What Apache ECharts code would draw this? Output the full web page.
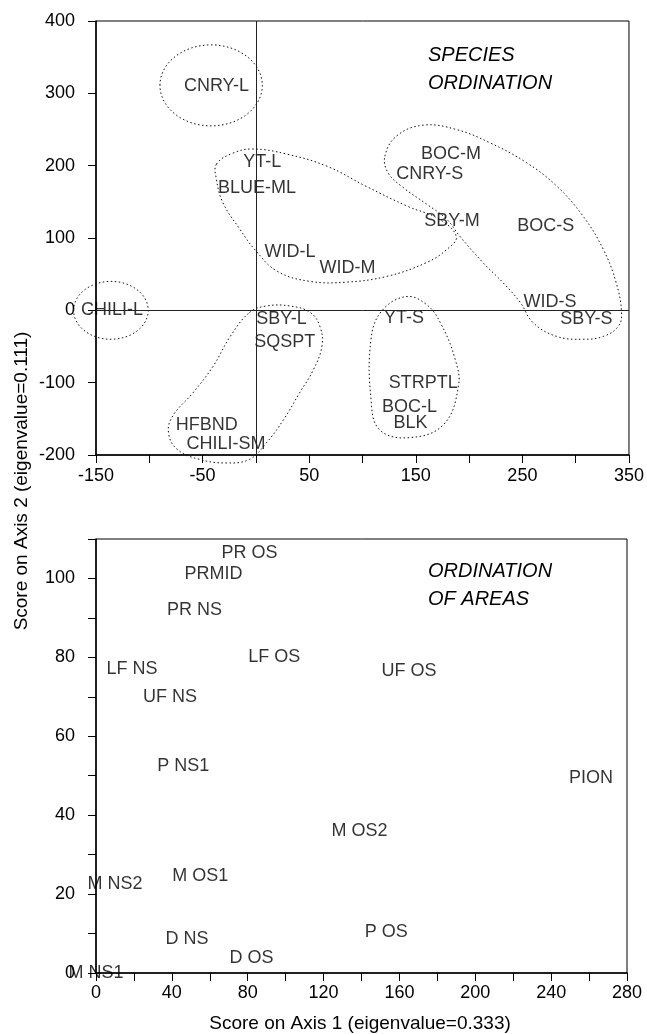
<!DOCTYPE html>
<html><head><meta charset="utf-8">
<script src="https://cdn.jsdelivr.net/npm/echarts@6/dist/echarts.min.js"></script>
<style>html,body{margin:0;padding:0;background:#fff}#c{width:647px;height:1034px}</style>
</head><body><div id="c"></div>
<script>
// ---------- Species ordination (top panel) ----------
const speciesNames = ['CNRY-L','YT-L','BLUE-ML','WID-L','WID-M','SBY-M','BOC-M','CNRY-S','BOC-S','WID-S','SBY-S','YT-S','STRPTL','BOC-L','BLK','SBY-L','SQSPT','HFBND','CHILI-SM','CHILI-L'];
const speciesX = [-37, 6, 1, 32, 86, 184, 183, 163, 272, 276, 310, 139, 157, 144, 145, 24, 27, -46, -28, -135];
const speciesY = [310, 205, 169, 80, 59, 124, 216, 188, 116, 12, -12, -10, -101, -134, -156, -12, -44, -159, -185, 0];
const speciesXTickLabels = [-150, -50, 50, 150, 250, 350];
const speciesYTickLabels = [-200, -100, 0, 100, 200, 300, 400];

// dotted group outlines (data coordinates)
const groupCnryL = [-42, 311, 48, 56];   // ellipse: cx, cy, rx, ry
const groupChiliL = [-136, 0, 35, 40];
const groupYTL = [[-37,202],[-22,217],[-3,223],[29,216],[67,199],[104,171],[142,144],[172,126],[188,102],[179,84],[160,66],[123,47],[85,39],[51,40],[20,54],[-1,84],[-15,112],[-31,149],[-37,181]];
const groupBOCM = [[121,213],[132,241],[157,256],[188,250],[219,232],[254,204],[282,172],[307,130],[326,84],[338,38],[343,-3],[340,-22],[326,-36],[307,-40],[282,-36],[260,-17],[248,11],[232,38],[213,66],[191,103],[179,126],[160,147],[138,170],[124,190]];
const groupSBYL = [[-6,-3],[10,6],[32,6],[51,-3],[60,-22],[62,-49],[54,-82],[41,-114],[26,-151],[10,-183],[-6,-206],[-28,-211],[-53,-206],[-74,-192],[-82,-169],[-78,-146],[-59,-114],[-40,-77],[-24,-36]];
const groupYTS = [[141,19],[160,8],[173,-17],[187,-68],[190,-105],[176,-158],[144,-176],[116,-165],[108,-123],[108,-40],[118,-1]];

// ---------- Ordination of areas (bottom panel) ----------
const areaNames = ['PR OS','PRMID','PR NS','LF NS','LF OS','UF NS','UF OS','P NS1','PION','M OS2','M OS1','M NS2','D NS','P OS','D OS','M NS1'];
const areaX = [81, 62, 52, 19, 94, 39, 165, 46, 261, 139, 55, 10, 48, 153, 82, 0];
const areaY = [106.5, 101, 92, 77, 80, 70, 76.5, 52.5, 49.5, 36, 24.5, 22.5, 8.6, 10.4, 3.8, 0];
const areaXTickLabels = [0, 40, 80, 120, 160, 200, 240, 280];
const areaYTickLabels = [0, 20, 40, 60, 80, 100];

const FONT = '"Liberation Sans", Arial, sans-serif';
const chart = echarts.init(document.getElementById('c'), null, {renderer: 'canvas'});

const dotStyle = {fill: 'none', stroke: '#111', lineWidth: 1, lineDash: [1.5, 2.5]};

function axisCommon(labels, margin) {
  return {
    axisLine: {show: true, onZero: false, lineStyle: {color: '#000', width: 1.5}},
    axisTick: {show: true, inside: false, length: 8, lineStyle: {color: '#000', width: 1}},
    splitLine: {show: false},
    axisLabel: {
      color: '#000', fontSize: 18, fontFamily: FONT, margin: margin,
      showMinLabel: true, showMaxLabel: true,
      formatter: v => labels.indexOf(v) >= 0 ? String(v) : ''
    }
  };
}

const option = {
  animation: false,
  backgroundColor: '#fff',
  title: [
    {text: 'SPECIES\nORDINATION', left: 428, top: 41, padding: 0,
     textStyle: {fontStyle: 'italic', fontWeight: 'normal', fontSize: 20, lineHeight: 28, color: '#000', fontFamily: FONT}},
    {text: 'ORDINATION\nOF AREAS', left: 428, top: 557, padding: 0,
     textStyle: {fontStyle: 'italic', fontWeight: 'normal', fontSize: 20, lineHeight: 28, color: '#000', fontFamily: FONT}}
  ],
  grid: [
    {left: 96, right: 18, top: 21, height: 434, show: true, borderColor: '#000', borderWidth: 1, backgroundColor: 'transparent'},
    {left: 96, right: 20, top: 539, height: 434, show: true, borderColor: '#000', borderWidth: 1, backgroundColor: 'transparent'}
  ],
  xAxis: [
    Object.assign({type: 'value', gridIndex: 0, min: -150, max: 350, interval: 50}, axisCommon(speciesXTickLabels, 12)),
    Object.assign({type: 'value', gridIndex: 1, min: 0, max: 280, interval: 20}, axisCommon(areaXTickLabels, 11))
  ],
  yAxis: [
    Object.assign({type: 'value', gridIndex: 0, min: -200, max: 400, interval: 100}, axisCommon(speciesYTickLabels, 21)),
    Object.assign({type: 'value', gridIndex: 1, min: 0, max: 110, interval: 10}, axisCommon(areaYTickLabels, 21))
  ],
  graphic: [
    {type: 'text', x: 22, y: 481, rotation: Math.PI / 2,
     style: {text: 'Score on Axis 2 (eigenvalue=0.111)', font: '19px ' + FONT, fill: '#000', align: 'center', verticalAlign: 'middle'}},
    {type: 'text', x: 360, y: 1024,
     style: {text: 'Score on Axis 1 (eigenvalue=0.333)', font: '19px ' + FONT, fill: '#000', align: 'center', verticalAlign: 'middle'}}
  ],
  series: [
    {
      type: 'custom', xAxisIndex: 0, yAxisIndex: 0, clip: false, silent: true,
      data: [groupCnryL, groupChiliL],
      renderItem: (params, api) => {
        const c = api.coord([api.value(0), api.value(1)]);
        const s = api.size([api.value(2), api.value(3)]);
        return {type: 'ellipse', shape: {cx: c[0], cy: c[1], rx: s[0], ry: s[1]}, style: dotStyle};
      }
    },
    {
      type: 'custom', xAxisIndex: 0, yAxisIndex: 0, clip: false, silent: true,
      data: [[0, 0], [0, 0], [0, 0], [0, 0]],
      renderItem: (params, api) => {
        const groups = [groupYTL, groupBOCM, groupSBYL, groupYTS];
        const pts = groups[params.dataIndex].map(p => api.coord(p));
        return {type: 'polygon', shape: {points: pts, smooth: 0.4}, style: dotStyle};
      }
    },
    {
      type: 'scatter', xAxisIndex: 0, yAxisIndex: 0, symbolSize: 0,
      data: speciesNames.map((n, i) => ({name: n, value: [speciesX[i], speciesY[i]]})),
      label: {show: true, position: 'inside', formatter: p => p.name, color: '#000', fontSize: 18, fontFamily: FONT},
      markLine: {
        silent: true, symbol: ['none', 'none'], label: {show: false},
        lineStyle: {color: '#222', type: 'solid', width: 1},
        data: [{xAxis: 0}, {yAxis: 0}]
      }
    },
    {
      type: 'scatter', xAxisIndex: 1, yAxisIndex: 1, symbolSize: 0,
      data: areaNames.map((n, i) => ({name: n, value: [areaX[i], areaY[i]]})),
      label: {show: true, position: 'inside', formatter: p => p.name, color: '#000', fontSize: 18, fontFamily: FONT}
    }
  ]
};
chart.setOption(option);
</script>
</body></html>
